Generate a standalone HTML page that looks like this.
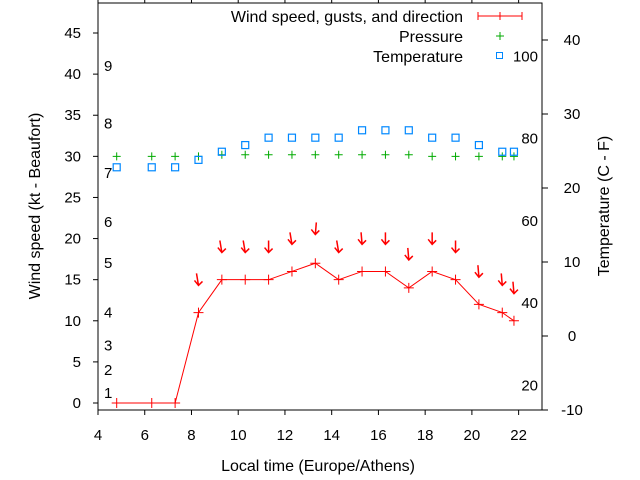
<!DOCTYPE html>
<html><head><meta charset="utf-8"><style>
body{margin:0;background:#fff}
svg{display:block;font-family:"Liberation Sans",sans-serif}
</style></head><body>
<svg id="c" width="640" height="480"></svg>
<script>
const times=[4.8,6.3,7.3,8.3,9.3,10.3,11.3,12.3,13.3,14.3,15.3,16.3,17.3,18.3,19.3,20.3,21.3,21.8];
const windKt=[0,0,0,11,15,15,15,16,17,15,16,16,14,16,15,12,11,10];
const gustKt=[0,0,0,14.3,18.3,18.3,18.3,19.3,20.5,18.3,19.3,19.3,17.4,19.3,18.3,15.3,14.3,13.3];
const dirDx=[0,0,0,-2,-2,-2,0,-2,1,-2,-1,0,-1,0,0,-1,-1,-1];
const pressure=[30,30,30,30,30.2,30.2,30.2,30.2,30.2,30.2,30.2,30.2,30.2,30,30,30,30,30];
const tempC=[22.8,22.8,22.8,23.8,24.9,25.8,26.8,26.8,26.8,26.8,27.8,27.8,27.8,26.8,26.8,25.8,24.9,24.9];
const xTicks=[4,6,8,10,12,14,16,18,20,22];
const yTicks=[0,5,10,15,20,25,30,35,40,45];
const y2Ticks=[-10,0,10,20,30,40];
const fTicks=[20,40,60,80,100];
const bftNum=[1,2,3,4,5,6,7,8,9];
const bftKt=[1.2,4,7,11,17,22,28,34,41];

const L=98,R=542,T=3,B=410;
const X=v=>L+(v-4)/(23-4)*(R-L);
const Y=v=>B-(v+0.85)/(48.65+0.85)*(B-T);
const Y2=v=>B-(v+10)/55*(B-T);
const svg=document.getElementById('c');
const NS='http://www.w3.org/2000/svg';
function mk(tag,at,parent){const e=document.createElementNS(NS,tag);for(const k in at)e.setAttribute(k,at[k]);(parent||svg).appendChild(e);return e;}
function txt(s,x,y,anchor,size,name){const e=mk('text',{x:x,y:y,'text-anchor':anchor,'font-size':size||16,fill:'#000'});e.textContent=s;

return e;}

const frame=mk('rect',{x:L,y:T,width:R-L,height:B-T,fill:'none',stroke:'#000','stroke-width':1});



xTicks.forEach(t=>{const x=X(t);
 mk('line',{x1:x,y1:B,x2:x,y2:B+5,stroke:'#000'});
 mk('line',{x1:x,y1:T,x2:x,y2:T-5,stroke:'#000'});
 txt(String(t),x,440,'middle',15,'x-tick-label');});
yTicks.forEach(t=>{const y=Y(t);
 mk('line',{x1:L-5,y1:y,x2:L,y2:y,stroke:'#000'});
 txt(String(t),81,y+5,'end',15,'y-tick-label');});
y2Ticks.forEach(t=>{const y=Y2(t);
 mk('line',{x1:R,y1:y,x2:R+6,y2:y,stroke:'#000'});
 txt(String(t),572,y+5,'middle',15,'y2-tick-label');});
fTicks.forEach(f=>{const c=(f-32)*5/9;txt(String(f),538,Y2(c)+5,'end',15,'fahrenheit-label');});
bftNum.forEach((n,i)=>txt(String(n),104,Y(bftKt[i])+5,'start',15,'beaufort-label'));

let pts=times.map((t,i)=>X(t)+','+Y(windKt[i])).join(' ');
const wl=mk('polyline',{points:pts,fill:'none',stroke:'#f00','stroke-width':1});


times.forEach((t,i)=>{const x=X(t),y=Y(windKt[i]);
 const p=mk('path',{d:`M${x-5},${y}H${x+5}M${x},${y-5}V${y+5}`,stroke:'#f00','stroke-width':1});
 
 
 if(windKt[i]>0){const gx=X(t),gy=Y(gustKt[i]);
  const a=mk('path',{d:`M${gx+dirDx[i]},${gy-12}L${gx},${gy}M${gx-4},${gy-5}L${gx},${gy}L${gx+4},${gy-4}`,stroke:'#f00','stroke-width':1.5,fill:'none'});
  
  }
});
times.forEach((t,i)=>{const x=X(t),y=Y(pressure[i]);
 const p=mk('path',{d:`M${x-4},${y}H${x+4}M${x},${y-4}V${y+4}`,stroke:'#0a0','stroke-width':1});
 
 });
times.forEach((t,i)=>{const x=X(t),y=Y2(tempC[i]);
 const r=mk('rect',{x:x-3.5,y:y-3.5,width:7,height:7,fill:'none',stroke:'#08f','stroke-width':1.2});
 
 });

txt('Wind speed, gusts, and direction',463,22,'end',16,'legend-wind-label');
mk('path',{d:'M478,16H522M478,12V20M500,12V20M522,12V20',stroke:'#f00',fill:'none'});
txt('Pressure',463,42,'end',16,'legend-pressure-label');
mk('path',{d:'M496,36H504M500,32V40',stroke:'#0a0'});
txt('Temperature',463,62,'end',16,'legend-temperature-label');
mk('rect',{x:496.5,y:52.5,width:6,height:6,fill:'none',stroke:'#08f'});

txt('Local time (Europe/Athens)',318,471,'middle',16,'x-axis-title');
const yt=txt('Wind speed (kt - Beaufort)',0,0,'middle',16,'y-axis-title');
yt.setAttribute('transform','translate(40,206) rotate(-90)');
const y2t=txt('Temperature (C - F)',0,0,'middle',16,'y2-axis-title');
y2t.setAttribute('transform','translate(609,206) rotate(-90)');
</script>
</body></html>
